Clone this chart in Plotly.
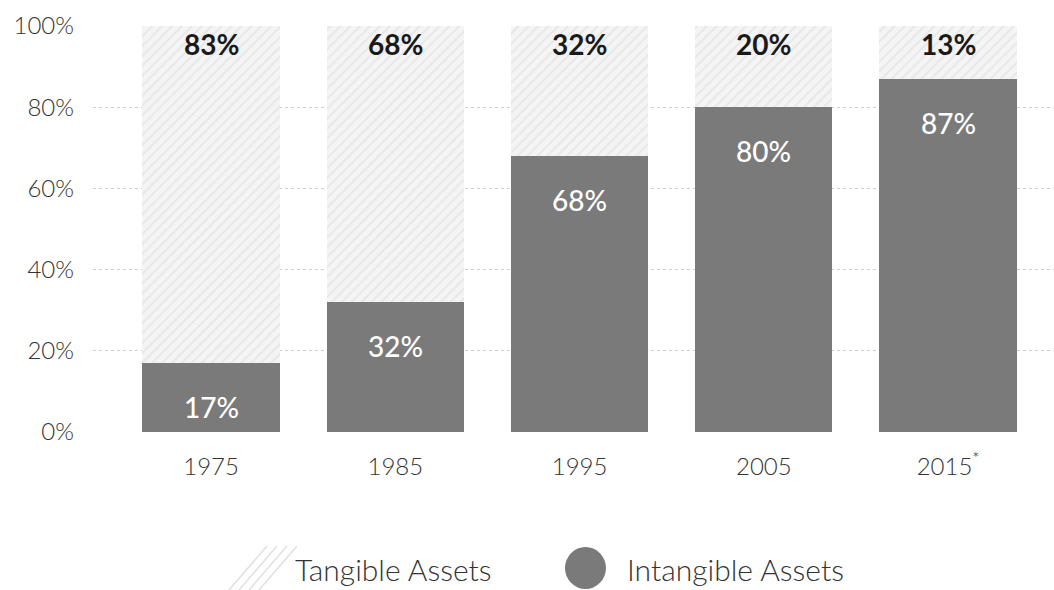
import plotly.graph_objects as go

years = ["1975", "1985", "1995", "2005", "2015<sup>*</sup>"]
intangible = [17, 32, 68, 80, 87]
tangible = [83, 68, 32, 20, 13]
y_ticks = [0, 20, 40, 60, 80, 100]
y_tick_labels = ["0%", "20%", "40%", "60%", "80%", "100%"]

W, H = 1054, 590
ML, MR, MT, MB = 93, 0, 26, 158
FONT = "Lato, Noto Sans, sans-serif"

fig = go.Figure()
fig.add_trace(go.Bar(
    x=years, y=intangible, name="Intangible Assets",
    marker=dict(color="#7a7a7a", line=dict(width=0)),
    hoverinfo="skip", showlegend=False,
))
fig.add_trace(go.Bar(
    x=years, y=tangible, name="Tangible Assets",
    marker=dict(color="#f4f4f4", line=dict(width=0),
                pattern=dict(shape="/", fgcolor="#d8d8d8", bgcolor="#f4f4f4",
                             size=7, solidity=0.25)),
    hoverinfo="skip", showlegend=False,
))

annotations = []
for i, (a, b) in enumerate(zip(intangible, tangible)):
    annotations.append(dict(x=i, y=a + b, xref="x", yref="y", text=f"<b>{b}%</b>",
                            showarrow=False, yshift=-18,
                            font=dict(family=FONT, size=28, color="#1a1a1a")))
    annotations.append(dict(x=i, y=a, xref="x", yref="y", text=f"{a}%",
                            showarrow=False, yshift=-44,
                            font=dict(family=FONT, size=28, color="#ffffff", weight=500)))

# custom legend (pixel helpers to paper coords)
pw = W - ML - MR
ph = H - MT - MB
def px(x):
    return (x - ML) / pw
def py(y):
    return (H - MB - y) / ph

shapes = []
for i in range(4):
    x0 = 229 + i * 10
    shapes.append(dict(type="line", xref="paper", yref="paper",
                       x0=px(x0), y0=py(590), x1=px(x0 + 38), y1=py(546),
                       line=dict(color="#e0e0e0", width=1.5)))
shapes.append(dict(type="circle", xref="paper", yref="paper",
                   x0=px(565), y0=py(589), x1=px(606), y1=py(547),
                   fillcolor="#7a7a7a", line=dict(width=0)))
annotations.append(dict(xref="paper", yref="paper", x=px(293), y=py(569),
                        text="Tangible Assets", showarrow=False,
                        xanchor="left", yanchor="middle",
                        font=dict(family=FONT, size=30, color="#333333", weight=300)))
annotations.append(dict(xref="paper", yref="paper", x=px(625), y=py(569),
                        text="Intangible Assets", showarrow=False,
                        xanchor="left", yanchor="middle",
                        font=dict(family=FONT, size=30, color="#333333", weight=300)))

fig.update_layout(
    width=W, height=H, barmode="stack", bargap=0.255,
    margin=dict(l=ML, r=MR, t=MT, b=MB),
    paper_bgcolor="white", plot_bgcolor="white",
    font=dict(family=FONT, size=24, color="#333333"),
    annotations=annotations, shapes=shapes, showlegend=False,
    xaxis=dict(range=[-0.641, 4.575], showgrid=False, zeroline=False, showline=False,
               ticks="", ticklabelstandoff=18,
               tickfont=dict(family=FONT, size=24, color="#333333", weight=300),
               fixedrange=True),
    yaxis=dict(range=[0, 100], tickvals=y_ticks, ticktext=y_tick_labels,
               showgrid=True, gridcolor="#cfcfcf", griddash="dot", gridwidth=1,
               zeroline=False, showline=False, ticks="", ticklabelstandoff=18,
               tickfont=dict(family=FONT, size=24, color="#333333", weight=300),
               fixedrange=True),
)
fig.write_html("out.html", config={"displayModeBar": False},
               post_script="document.body.style.margin='0';document.body.style.overflow='hidden';")
